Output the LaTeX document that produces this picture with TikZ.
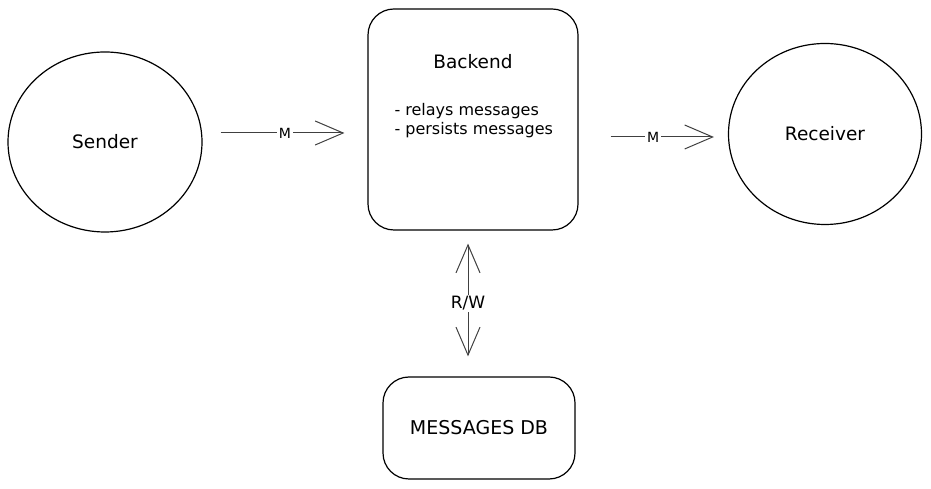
\documentclass[tikz,border=0pt]{standalone}
\usepackage{fontspec}
\setmainfont{DejaVu Sans}
\usetikzlibrary{shapes.geometric,arrows.meta}
\begin{document}
\begin{tikzpicture}[x=1pt,y=1pt]
				\tikzstyle{Actor} = [ellipse, draw, line width=1.2pt, inner sep=0pt, font=\fontsize{18.5}{22}\selectfont]
				\tikzstyle{Box} = [rectangle, draw, rounded corners=26pt, line width=1.2pt]
				\tikzstyle{Flow} = [draw=black!75, line width=1pt, -{Straight Barb[length=28pt,width=24pt]}]
				\tikzstyle{Tag} = [fill=white, inner sep=2pt, font=\fontsize{14}{16}\selectfont]
				\useasboundingbox (0,0) rectangle (931,489);
				\node (sender) at (105,347) [Actor, minimum width=194, minimum height=180] {Sender};
				\node (receiver) at (825,355) [Actor, minimum width=193, minimum height=181] {Receiver};
				\node (backend) at (473,369.5) [Box, minimum width=210, minimum height=221] {};
				\node (title) at (473,427) [font=\fontsize{18.5}{22}\selectfont] {Backend};
				\node (duties) at (391,368) [anchor=west, align=left, font=\fontsize{16}{19}\selectfont] {- relays messages\\- persists messages};
				\node (db) at (479,61) [Box, minimum width=192, minimum height=102, font=\fontsize{19}{22}\selectfont] {MESSAGES DB};
				\draw [Flow, shorten <=18pt, shorten >=23pt] ([yshift=9pt]sender.east) to node [Tag] {M} ([yshift=9pt]sender.east -| backend.west);
				\draw [Flow, shorten <=32pt, shorten >=14pt] ([yshift=-3pt]backend.east |- receiver.west) to node [Tag] {M} ([yshift=-3pt]receiver.west);
				\draw [Flow, {Straight Barb[length=28pt,width=24pt]}-{Straight Barb[length=28pt,width=24pt]}, shorten <=13pt, shorten >=20pt] ([xshift=-5pt]backend.south) to node [Tag, font=\fontsize{17}{19}\selectfont] {R/W} ([xshift=-5pt]backend.south |- db.north);
			\end{tikzpicture}
\end{document}
